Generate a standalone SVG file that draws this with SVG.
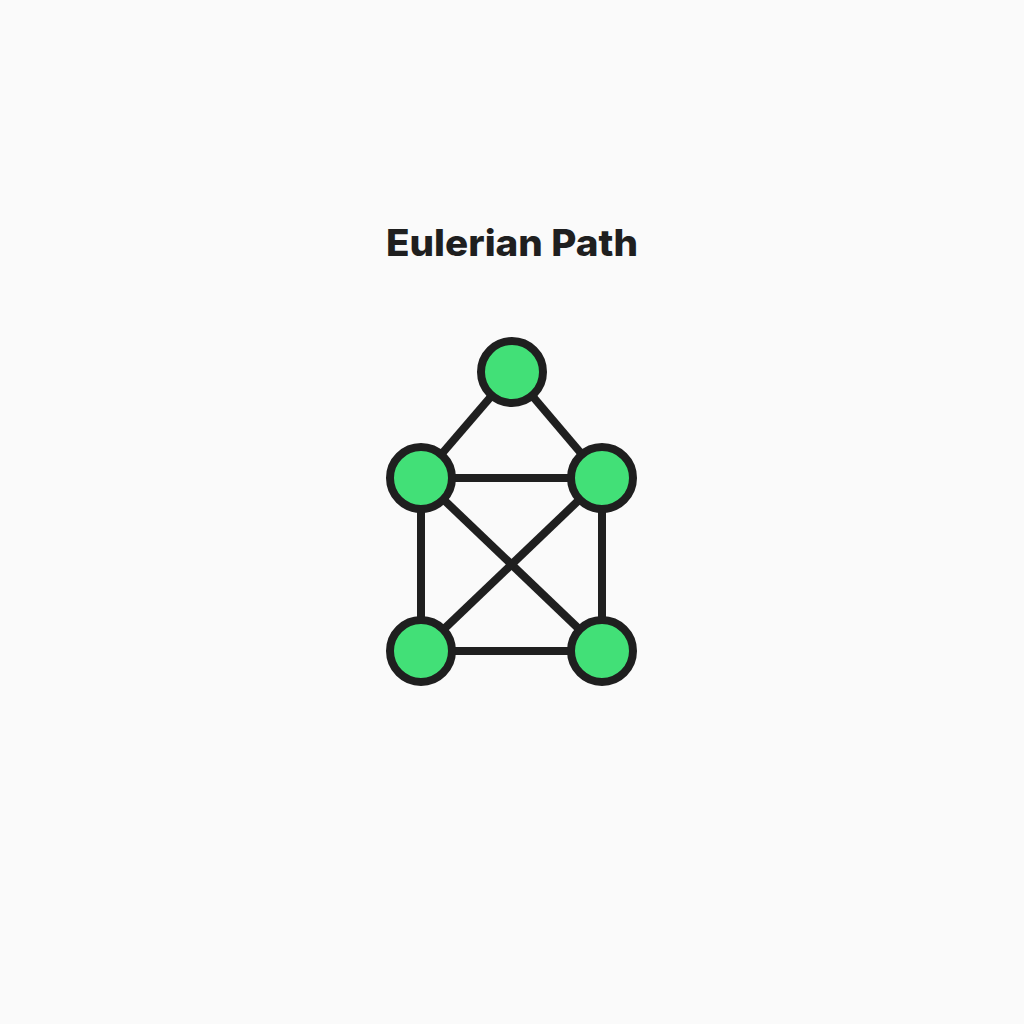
<svg xmlns="http://www.w3.org/2000/svg" width="1024" height="1024" viewBox="0 0 1024 1024">
<style>
.node{fill:#42e077;stroke:#1f1f1f;stroke-width:8}
.edge{stroke:#1f1f1f;stroke-width:8;fill:none}
.title{font-family:Inter,"Noto Sans",sans-serif;font-weight:800;font-size:37px;fill:#1f1f1f}
</style>
<rect width="1024" height="1024" fill="#fafafa"/>
<text class="title" x="512" y="256" text-anchor="middle" textLength="252" lengthAdjust="spacingAndGlyphs">Eulerian Path</text>
<g id="edges">
<line class="edge" x1="512" y1="372" x2="421" y2="478"/>
<line class="edge" x1="512" y1="372" x2="602" y2="478"/>
<line class="edge" x1="421" y1="478" x2="602" y2="478"/>
<line class="edge" x1="421" y1="478" x2="421" y2="651"/>
<line class="edge" x1="602" y1="478" x2="602" y2="651"/>
<line class="edge" x1="421" y1="478" x2="602" y2="651"/>
<line class="edge" x1="602" y1="478" x2="421" y2="651"/>
<line class="edge" x1="421" y1="651" x2="602" y2="651"/>
</g>
<g id="n-top"><circle class="node" cx="512" cy="372" r="31"/></g>
<g id="n-midleft"><circle class="node" cx="421" cy="478" r="31"/></g>
<g id="n-midright"><circle class="node" cx="602" cy="478" r="31"/></g>
<g id="n-botleft"><circle class="node" cx="421" cy="651" r="31"/></g>
<g id="n-botright"><circle class="node" cx="602" cy="651" r="31"/></g>
</svg>
